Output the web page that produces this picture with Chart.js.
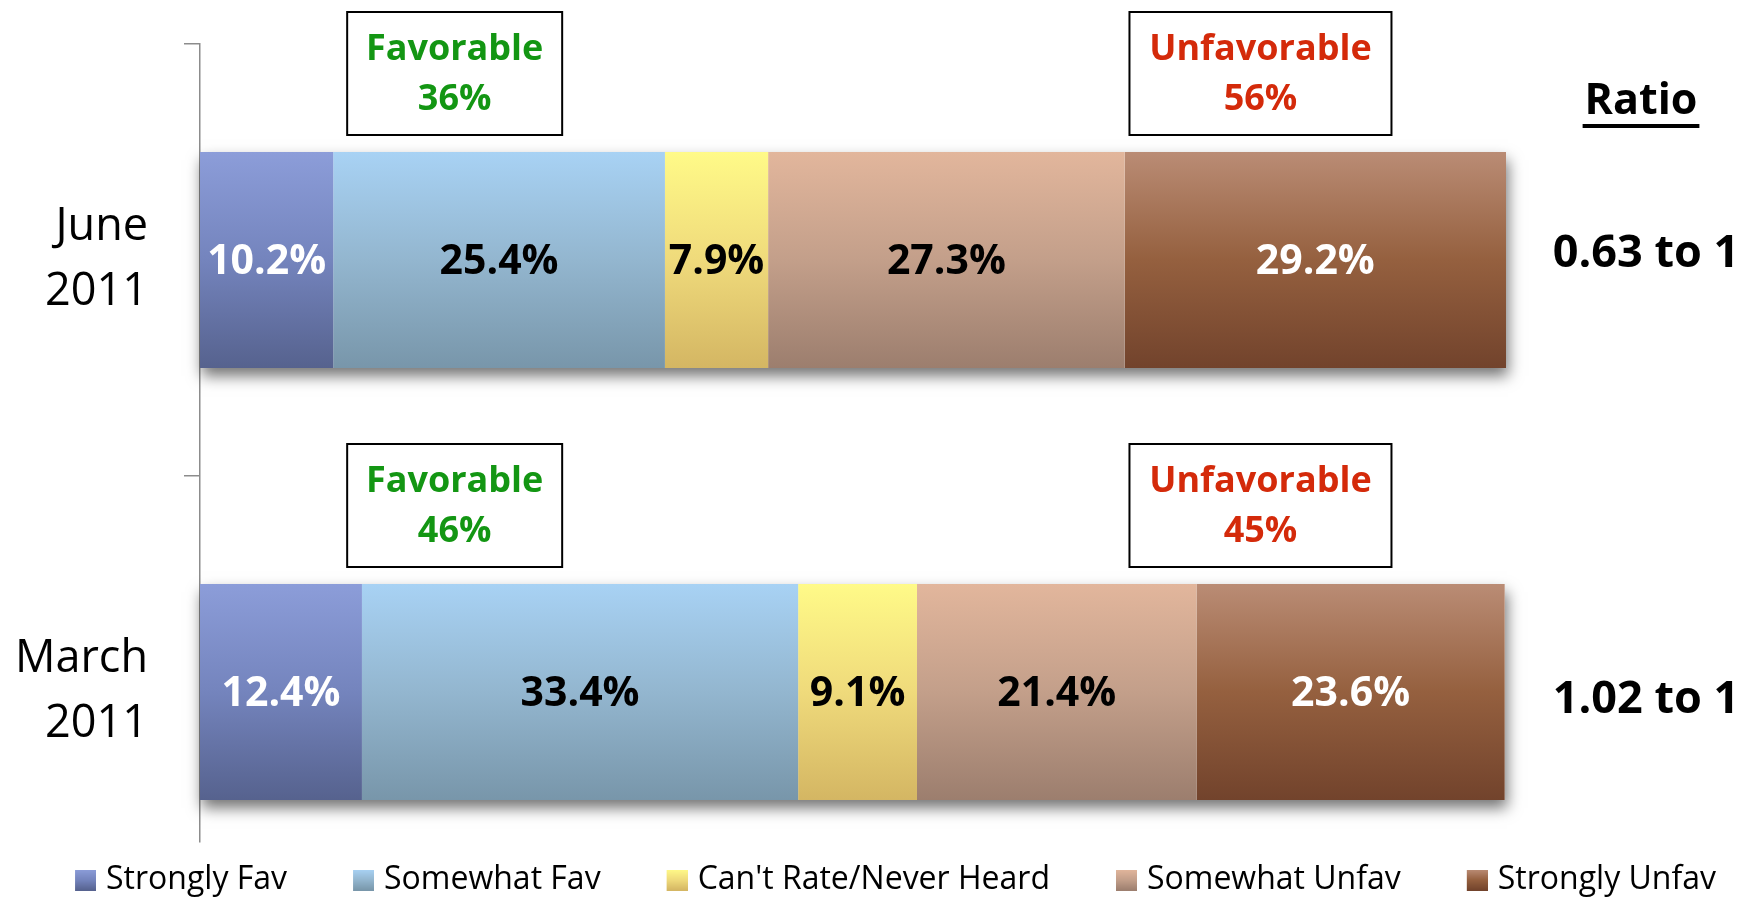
<!DOCTYPE html>
<html>
<head>
<meta charset="utf-8">
<script src="https://cdn.jsdelivr.net/npm/chart.js@4/dist/chart.umd.min.js"></script>
<style>
html,body{margin:0;padding:0;background:#fff;overflow:hidden}
#wrap{width:1747px;height:897px;position:relative}
</style>
</head>
<body>
<div id="wrap"><canvas id="c" width="1747" height="897"></canvas></div>
<script>
// ---- data ----
const categories = [['June', '2011'], ['March', '2011']];
const seriesNames = ['Strongly Fav', 'Somewhat Fav', "Can't Rate/Never Heard", 'Somewhat Unfav', 'Strongly Unfav'];
const stronglyFav   = [10.2, 12.4];
const somewhatFav   = [25.4, 33.4];
const cantRate      = [7.9, 9.1];
const somewhatUnfav = [27.3, 21.4];
const stronglyUnfav = [29.2, 23.6];
const favorableTotal   = [36, 46];
const unfavorableTotal = [56, 45];
const ratioLabels = ['0.63 to 1', '1.02 to 1'];
const ratioTitle = 'Ratio';
const favorableTitle = 'Favorable';
const unfavorableTitle = 'Unfavorable';

// ---- styles ----
const FONT = "'Open Sans', sans-serif";
const gradStops = [
  ['#8c9dd9', '#7484bd', '#56628e'],
  ['#a8d2f4', '#93b6cf', '#7896aa'],
  ['#fffa88', '#efda7b', '#d4b663'],
  ['#e2b69c', '#c39f8a', '#9c7e6e'],
  ['#ba8c75', '#95603f', '#72432c']
];
const labelColors = ['#ffffff', '#000000', '#000000', '#000000', '#ffffff'];
const GREEN = '#139613';
const RED = '#d42a0a';

const allSeries = [stronglyFav, somewhatFav, cantRate, somewhatUnfav, stronglyUnfav];

function barGradient(ctx, k) {
  const chart = ctx.chart;
  const ys = chart.scales && chart.scales.y;
  if (!ys || ctx.dataIndex === undefined) return gradStops[k][1];
  const c = ys.getPixelForValue(ctx.dataIndex);
  const half = Math.abs(ys.getPixelForValue(1) - ys.getPixelForValue(0)) * 0.25;
  if (!isFinite(c) || !isFinite(half) || half <= 0) return gradStops[k][1];
  const g = chart.ctx.createLinearGradient(0, c - half, 0, c + half);
  const st = gradStops[k];
  st.forEach((col, j) => g.addColorStop(j / (st.length - 1), col));
  return g;
}

function legendSwatch(stops) {
  const cv = document.createElement('canvas');
  cv.width = 71; cv.height = 21;
  const g = cv.getContext('2d');
  const gr = g.createLinearGradient(0, 0, 0, 21);
  stops.forEach((c, j) => gr.addColorStop(j / (stops.length - 1), c));
  g.fillStyle = gr;
  g.fillRect(50, 0, 21, 21);
  return cv;
}
const swatches = gradStops.map(legendSwatch);

const datasets = allSeries.map((vals, k) => ({
  label: seriesNames[k],
  data: vals.map((v, i) => ({ x: v, y: i })),
  xAxisID: 'x',
  yAxisID: 'y',
  backgroundColor: (ctx) => barGradient(ctx, k),
  borderWidth: 0,
  barPercentage: 0.5,
  categoryPercentage: 1
}));

const decor = {
  id: 'decor',
  beforeDatasetsDraw(chart) {
    // one soft shadow under each full bar row
    const ctx = chart.ctx;
    const metas = chart.data.datasets.map((d, k) => chart.getDatasetMeta(k));
    categories.forEach((cat, i) => {
      let l = Infinity, r = -Infinity, t = 0, h = 0;
      metas.forEach(m => {
        const el = m.data[i];
        if (!el) return;
        l = Math.min(l, el.x, el.base);
        r = Math.max(r, el.x, el.base);
        t = el.y; h = el.height;
      });
      ctx.save();
      ctx.shadowColor = 'rgba(0,0,0,0.55)';
      ctx.shadowBlur = 14;
      ctx.shadowOffsetY = 8;
      ctx.shadowOffsetX = 2;
      ctx.fillStyle = '#ffffff';
      ctx.fillRect(l, t - h / 2, r - l, h);
      ctx.restore();
    });
  },
  afterDatasetsDraw(chart, args, opts) {
    const ctx = chart.ctx;
    const xs = chart.scales.x;
    // value labels
    ctx.save();
    ctx.textAlign = 'center';
    ctx.textBaseline = 'middle';
    ctx.font = 'bold 41px ' + FONT;
    allSeries.forEach((vals, k) => {
      const meta = chart.getDatasetMeta(k);
      meta.data.forEach((el, i) => {
        ctx.fillStyle = labelColors[k];
        ctx.fillText(vals[i].toFixed(1) + '%', (el.x + el.base) / 2, el.y + 2);
      });
    });
    ctx.restore();

    // favorable / unfavorable boxes and ratios
    const meta0 = chart.getDatasetMeta(0);
    const drawBox = (cx, w, top, title, value, color) => {
      const h = 123;
      ctx.save();
      ctx.fillStyle = '#ffffff';
      ctx.fillRect(cx - w / 2, top, w, h);
      ctx.lineWidth = 2;
      ctx.strokeStyle = '#000000';
      ctx.strokeRect(cx - w / 2, top, w, h);
      ctx.fillStyle = color;
      ctx.textAlign = 'center';
      ctx.textBaseline = 'middle';
      ctx.font = 'bold 36px ' + FONT;
      ctx.fillText(title, cx, top + 38);
      ctx.fillText(value + '%', cx, top + 88);
      ctx.restore();
    };
    meta0.data.forEach((el, i) => {
      const barTop = el.y - el.height / 2;
      const boxTop = barTop - 17 - 123;
      drawBox(xs.getPixelForValue(opts.favCenter), 215, boxTop, favorableTitle, favorableTotal[i], GREEN);
      drawBox(xs.getPixelForValue(opts.unfavCenter), 262, boxTop, unfavorableTitle, unfavorableTotal[i], RED);
      ctx.save();
      ctx.fillStyle = '#000000';
      ctx.textAlign = 'center';
      ctx.textBaseline = 'middle';
      ctx.font = 'bold 45px ' + FONT;
      ctx.fillText(ratioLabels[i], chart.chartArea.right + 140, el.y + (i === 0 ? -6 : 8));
      ctx.restore();
    });
    // Ratio header
    const firstTop = meta0.data[0].y - meta0.data[0].height / 2;
    ctx.save();
    ctx.fillStyle = '#000000';
    ctx.textAlign = 'center';
    ctx.textBaseline = 'middle';
    ctx.font = 'bold 43px ' + FONT;
    const hx = chart.chartArea.right + 135, hy = firstTop - 50;
    ctx.fillText(ratioTitle, hx, hy);
    const tw = ctx.measureText(ratioTitle).width;
    ctx.fillRect(hx - tw / 2 - 2, hy + 22, tw + 4, 4);
    ctx.restore();
  }
};

new Chart(document.getElementById('c'), {
  type: 'bar',
  data: { datasets },
  options: {
    indexAxis: 'y',
    responsive: false,
    animation: false,
    devicePixelRatio: 1,
    layout: { padding: { top: 44, left: 0, right: 0, bottom: 0 } },
    scales: {
      x: { type: 'linear', axis: 'x', stacked: true, min: 0, max: 100, display: false },
      y: {
        type: 'linear', axis: 'y', position: 'left', stacked: true, reverse: true,
        offset: false, bounds: 'data', min: -0.5, max: 1.3472,
        afterBuildTicks: (s) => { s.ticks = categories.map((c, i) => ({ value: i })); },
        afterFit: (s) => { s.width = 200; s.paddingTop = 0; s.paddingBottom = 0; },
        ticks: {
          callback: (v) => categories[v],
          font: { family: FONT, size: 45, lineHeight: 1.45 },
          color: '#000000',
          padding: 36,
          crossAlign: 'near'
        },
        grid: { display: true, offset: true, drawOnChartArea: false, drawTicks: true, tickLength: 16, color: '#8c8c8c', lineWidth: 1.5 },
        border: { display: true, color: '#8c8c8c', width: 1.5 }
      },
      yr: {
        type: 'linear', axis: 'y', position: 'right', display: true, offset: false,
        afterFit: (s) => { s.width = 241; s.paddingTop = 0; s.paddingBottom = 0; },
        ticks: { display: false },
        grid: { display: false, drawTicks: false },
        border: { display: false }
      }
    },
    plugins: {
      tooltip: { enabled: false },
      decor: { favCenter: 19.5, unfavCenter: 81.2 },
      legend: {
        position: 'bottom',
        maxHeight: 55,
        labels: {
          font: { family: FONT, size: 32 },
          color: '#000000',
          padding: 22,
          usePointStyle: true,
          pointStyleWidth: 59,
          generateLabels: (chart) => chart.data.datasets.map((ds, i) => ({
            text: ds.label,
            pointStyle: swatches[i],
            fillStyle: gradStops[i][1],
            strokeStyle: 'rgba(0,0,0,0)',
            lineWidth: 0,
            fontColor: '#000000',
            hidden: !chart.isDatasetVisible(i),
            datasetIndex: i
          }))
        }
      }
    }
  },
  plugins: [decor]
});
</script>
</body>
</html>
